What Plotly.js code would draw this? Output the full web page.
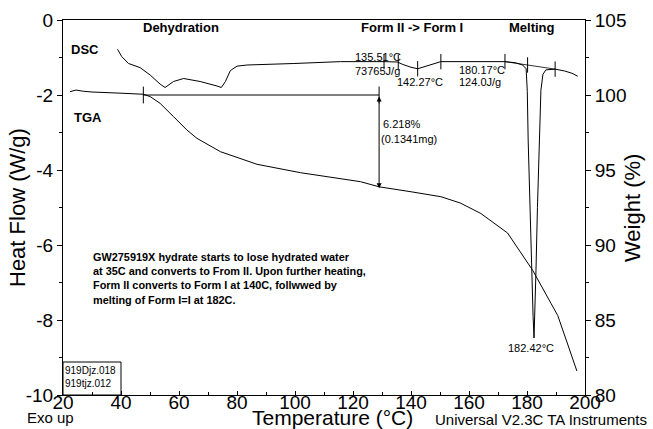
<!DOCTYPE html>
<html>
<head>
<meta charset="utf-8">
<script src="https://cdn.plot.ly/plotly-3.0.1.min.js"></script>
<style>html,body{margin:0;padding:0;background:#fff;}#chart{width:653px;height:429px;}</style>
</head>
<body>
<div id="chart"></div>
<script>
// DSC heat flow (W/g) vs temperature (°C)
const dscTemp = [38.8, 40.3, 42.6, 46.6, 50.1, 53.5, 55.2, 58.1, 61.6, 67.3, 73.1, 74.6, 76.0, 77.7, 80.0, 83.5, 99.6, 115.7, 130.7, 135.3, 137.0, 140.0, 142.3, 145.0, 148.0, 150.3, 160.0, 172.4, 176.0, 178.5, 179.7, 180.1, 180.4, 181.0, 181.6, 182.1, 182.42, 182.7, 183.1, 183.6, 184.2, 184.8, 185.5, 186.5, 189.7, 193.0, 195.5, 197.5];
const dscHF   = [-0.78, -0.98, -1.16, -1.27, -1.47, -1.71, -1.80, -1.64, -1.56, -1.64, -1.76, -1.80, -1.64, -1.35, -1.23, -1.20, -1.16, -1.11, -1.11, -1.12, -1.18, -1.26, -1.30, -1.24, -1.16, -1.11, -1.11, -1.11, -1.14, -1.20, -1.30, -1.90, -3.20, -5.00, -6.67, -7.90, -8.48, -7.90, -6.67, -5.00, -3.20, -1.87, -1.45, -1.33, -1.31, -1.36, -1.42, -1.50];

// TGA weight (%) vs temperature (°C)
const tgaTemp = [22.4, 24.5, 27.0, 30.0, 40.0, 47.7, 50.1, 53.5, 58.1, 62.7, 66.2, 74.3, 86.9, 101.9, 122.6, 129.0, 140.0, 150.3, 157.0, 164.1, 173.3, 182.0, 188.3, 190.6, 194.0, 197.2];
const tgaW    = [100.22, 100.33, 100.25, 100.2, 100.12, 100.05, 99.89, 99.44, 98.56, 97.67, 97.11, 96.22, 95.38, 94.82, 94.22, 93.88, 93.55, 93.22, 92.8, 92.1, 90.8, 88.3, 86.1, 85.3, 83.4, 81.6];

// analysis marks
const dscTickTemp = [130.7, 135.6, 142.3, 150.3, 172.4, 180.2, 189.7];
const dscTickHF   = [-1.11, -1.12, -1.30, -1.11, -1.11, -1.20, -1.31];
const meltBaseT   = [172.4, 189.7];
const meltBaseHF  = [-1.11, -1.31];
const stepT       = [47.7, 129.0];
const stepW       = [100.0, 100.0];
const stepEndW    = 93.78;

// axis tick labels
const xTicks  = [20, 40, 60, 80, 100, 120, 140, 160, 180, 200];
const yTicks  = [0, -2, -4, -6, -8, -10];
const y2Ticks = [80, 85, 90, 95, 100, 105];

const FONT = "Liberation Sans, Arial, Helvetica, sans-serif";
const line = {color: "#000", width: 1};

const traces = [
  {x: dscTemp, y: dscHF, type: "scatter", mode: "lines", line: line, yaxis: "y", hoverinfo: "skip"},
  {x: meltBaseT, y: meltBaseHF, type: "scatter", mode: "lines", line: {color: "#000", width: 0.8}, yaxis: "y", hoverinfo: "skip"},
  {x: dscTickTemp, y: dscTickHF, type: "scatter", mode: "markers", yaxis: "y",
   marker: {symbol: "line-ns-open", size: 11, color: "#000", line: {color: "#000", width: 1}}, hoverinfo: "skip"},
  {x: tgaTemp, y: tgaW, type: "scatter", mode: "lines", line: line, yaxis: "y2", hoverinfo: "skip"},
  {x: stepT, y: stepW, type: "scatter", mode: "lines+markers", yaxis: "y2", line: line,
   marker: {symbol: "line-ns-open", size: 12, color: "#000", line: {color: "#000", width: 1}}, hoverinfo: "skip"}
];

function P(px, py) { return {x: (px - 63) / 522, y: (395 - py) / 375}; }
function txt(text, px, py, opts) {
  const p = P(px, py);
  return Object.assign({text: text, xref: "paper", yref: "paper", x: p.x, y: p.y, showarrow: false,
    xanchor: "left", yanchor: "middle", font: {family: FONT, size: 11, color: "#000"}}, opts || {});
}
const bold = (s) => ({family: FONT, size: s, color: "#000", weight: "bold"});

const annotations = [
  {xref: "x", yref: "y2", axref: "x", ayref: "y2", x: stepT[1], y: stepEndW, ax: stepT[1], ay: stepW[1],
   showarrow: true, arrowhead: 2, arrowside: "end+start", arrowsize: 1, arrowwidth: 1, arrowcolor: "#000", text: "", standoff: 0, startstandoff: 0},
  txt("<b>Dehydration</b>", 181, 28, {xanchor: "center", font: bold(13)}),
  txt("<b>Form II -> Form I</b>", 412, 28, {xanchor: "center", font: bold(13)}),
  txt("<b>Melting</b>", 532, 28, {xanchor: "center", font: bold(13)}),
  txt("<b>DSC</b>", 69, 49, {font: bold(13)}),
  txt("<b>TGA</b>", 72, 118, {font: bold(13)}),
  txt("135.51°C", 353, 57),
  txt("73765J/g", 353, 71),
  txt("142.27°C", 395, 82),
  txt("180.17°C", 457, 70),
  txt("124.0J/g", 457, 82),
  txt("6.218%", 381, 124),
  txt("(0.1341mg)", 379, 139),
  txt("182.42°C", 531, 348, {xanchor: "center"}),
  txt("<b>GW275919X hydrate starts to lose hydrated water<br>at 35C and converts to From II. Upon further heating,<br>Form II converts to Form I at 140C, follwwed by<br>melting of Form I=I at 182C.</b>",
      91, 249, {yanchor: "top", align: "left", font: {family: FONT, size: 10.9, color: "#000"}}),
  txt("919Djz.018<br>919tjz.012", 64, 376.5, {align: "left", borderpad: 0,
      font: {family: FONT, size: 10, color: "#000"}}),
  txt("Exo up", 50, 418, {xanchor: "center", font: {family: FONT, size: 15, color: "#000"}}),
  txt("Universal V2.3C TA Instruments", 541, 419, {xanchor: "center", font: {family: FONT, size: 15, color: "#000"}}),
  txt("Temperature (°C)", 332, 418, {xanchor: "center", font: {family: FONT, size: 21, color: "#000"}}),
  txt("Heat Flow (W/g)", 17, 208, {xanchor: "center", textangle: -90, font: {family: FONT, size: 22, color: "#000"}}),
  txt("Weight (%)", 632, 208, {xanchor: "center", textangle: -90, font: {family: FONT, size: 22, color: "#000"}})
];

const shapes = [
  {type: "rect", xref: "paper", yref: "paper", x0: 0, x1: (121 - 63) / 522, y0: 0, y1: (395 - 362) / 375,
   line: {color: "#000", width: 1}, fillcolor: "rgba(0,0,0,0)"}
];

const axisCommon = {showgrid: false, zeroline: false, showline: true, linecolor: "#000", linewidth: 1,
  tickcolor: "#000", tickwidth: 1, tickfont: {family: FONT, size: 19, color: "#000"}, automargin: false};

const layout = {
  width: 653, height: 429,
  margin: {l: 63, r: 68, t: 20, b: 34},
  paper_bgcolor: "#fff", plot_bgcolor: "#fff",
  showlegend: false,
  font: {family: FONT, color: "#000"},
  xaxis: Object.assign({}, axisCommon, {range: [20, 200], tickvals: xTicks, ticktext: xTicks.map(String),
    ticks: "inside", ticklen: 4, ticklabelstandoff: -10, mirror: true,
    minor: {dtick: 10, ticks: "inside", ticklen: 3, tickcolor: "#000"}}),
  yaxis: Object.assign({}, axisCommon, {range: [-10, 0], tickvals: yTicks, ticktext: yTicks.map(String),
    ticks: "outside", ticklen: 5, minor: {dtick: 1, ticks: "outside", ticklen: 3, tickcolor: "#000"}}),
  yaxis2: Object.assign({}, axisCommon, {range: [80, 105], tickvals: y2Ticks, ticktext: y2Ticks.map(String),
    overlaying: "y", side: "right", ticks: "outside", ticklen: 5, minor: {dtick: 2.5, ticks: "outside", ticklen: 3, tickcolor: "#000"}}),
  shapes: shapes,
  annotations: annotations
};

Plotly.newPlot("chart", traces, layout, {staticPlot: true, displayModeBar: false});
</script>
</body>
</html>
